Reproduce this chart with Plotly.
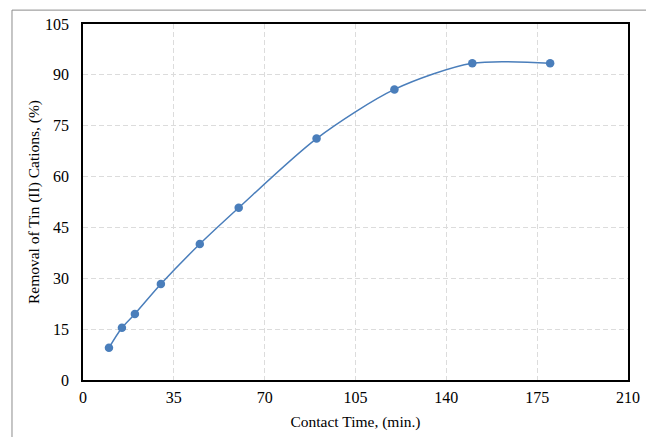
import plotly.graph_objects as go

contact_time = [10, 15, 20, 30, 45, 60, 90, 120, 150, 180]
removal = [9.5, 15.4, 19.5, 28.3, 40.1, 50.8, 71.2, 85.7, 93.4, 93.4]
x_ticks = [0, 35, 70, 105, 140, 175, 210]
y_ticks = [0, 15, 30, 45, 60, 75, 90, 105]

color = "#4A7EBB"
font = "Liberation Serif, Times New Roman, serif"

fig = go.Figure()
fig.add_trace(go.Scatter(
    x=contact_time, y=removal, mode="lines+markers",
    line=dict(color=color, width=1.5, shape="spline", smoothing=0.8),
    marker=dict(color=color, size=8.5),
    showlegend=False,
))

axis_common = dict(
    showgrid=True, gridcolor="#DCDCDC", griddash="5px,3px", gridwidth=1,
    showline=True, linecolor="black", linewidth=1.5, mirror=True,
    zeroline=False, ticks="", automargin=False,
    tickfont=dict(family=font, size=16, color="black"),
)

fig.update_layout(
    width=646, height=429,
    margin=dict(l=75, r=26, t=16, b=57),
    paper_bgcolor="white", plot_bgcolor="white",
    font=dict(family=font, color="black"),
    xaxis=dict(range=[0, 210], tickvals=x_ticks,
               title=dict(text="Contact Time, (min.)", font=dict(family=font, size=15.5), standoff=11),
               ticklabelstandoff=2, **axis_common),
    yaxis=dict(range=[0, 105], tickvals=y_ticks,
               title=dict(text="Removal of Tin (II) Cations, (%)", font=dict(family=font, size=15.5), standoff=2),
               ticklabelstandoff=9, **axis_common),
    shapes=[dict(type="rect", xref="paper", yref="paper",
                 x0=-0.1303, x1=1.042, y0=-0.2, y1=1.039,
                 line=dict(color="#8C8C8C", width=1), layer="below")],
)

fig.write_html("out.html")
